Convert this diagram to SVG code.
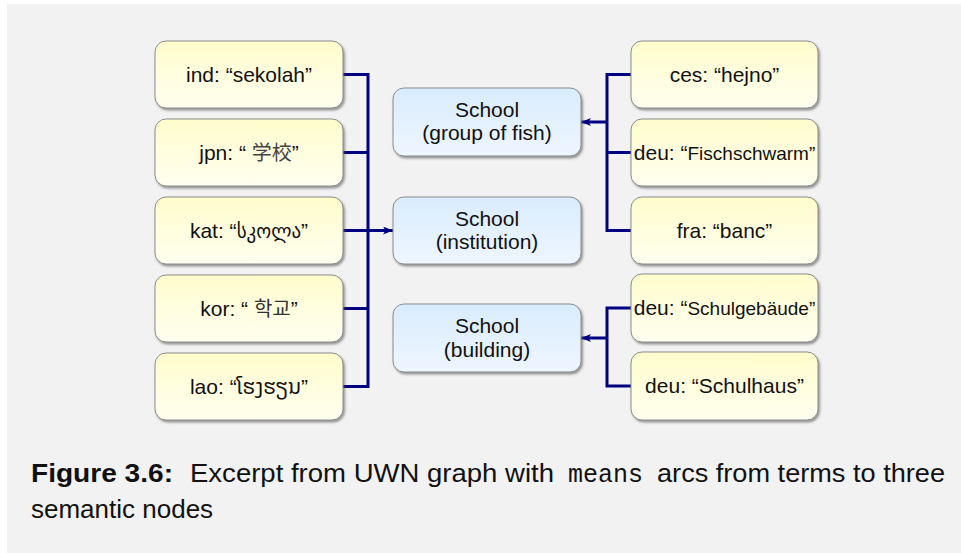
<svg xmlns="http://www.w3.org/2000/svg" width="961" height="553" viewBox="0 0 961 553">
<style>
.term{fill:url(#gy);stroke:#8c8c8c;stroke-width:1;filter:url(#sh)}
.sem{fill:url(#gb);stroke:#8c8c8c;stroke-width:1;filter:url(#sh)}
.t{font-family:"Liberation Sans",Arial,"DejaVu Sans","Noto Sans CJK JP","Noto Sans CJK KR",sans-serif;font-size:21px;fill:#111;text-anchor:middle}
.c{stroke:#000080;stroke-width:3;fill:none}
.a{stroke:#000080;stroke-width:3;fill:none;marker-end:url(#ah)}
.cap{font-family:"Liberation Sans",Arial,sans-serif;font-size:26px;fill:#111}
.mono{font-family:"Liberation Mono","Courier New",monospace;font-size:25px}
</style>
<defs>
<linearGradient id="gy" x1="0" y1="0" x2="0" y2="1">
<stop offset="0" stop-color="#fffccc"/>
<stop offset="1" stop-color="#fffff0"/>
</linearGradient>
<linearGradient id="gb" x1="0" y1="0" x2="0" y2="1">
<stop offset="0" stop-color="#d9ecfd"/>
<stop offset="1" stop-color="#eef6ff"/>
</linearGradient>
<filter id="sh" x="-10%" y="-10%" width="120%" height="130%">
<feDropShadow dx="1.5" dy="2" stdDeviation="0.8" flood-color="#555" flood-opacity="0.6"/>
</filter>
<marker id="ah" viewBox="0 0 10 8" refX="10" refY="4" markerWidth="10" markerHeight="8" markerUnits="userSpaceOnUse" orient="auto">
<path d="M0,0 L10,4 L0,8 L2.5,4 Z" fill="#000080"/>
</marker>
</defs>
<rect x="0" y="0" width="961" height="553" fill="#ffffff"/>
<rect x="7" y="4" width="954" height="549" fill="#f2f2f2"/>

<g id="connectors">
<path class="c" d="M343,74.5 H368 M343,152.5 H368 M343,308.5 H368 M343,386.5 H368 M368,73 V388 M343,230.5 H368"/>
<path class="a" d="M368,230.5 H393"/>
<path class="c" d="M631,74.5 H607 M631,152.5 H607 M631,230.5 H607 M607,73 V232"/>
<path class="a" d="M607,122 H581"/>
<path class="c" d="M631,308 H607 M631,386 H607 M607,306.5 V387.5"/>
<path class="a" d="M607,338 H581"/>
</g>

<g id="ind"><rect class="term" x="155" y="41" width="188" height="67" rx="11"/><text class="t" x="249" y="82">ind: “sekolah”</text></g>
<g id="jpn"><rect class="term" x="155" y="119" width="188" height="67" rx="11"/><text class="t" x="249" y="160">jpn: “ <tspan fill="#444" font-family="'Noto Sans CJK JP',sans-serif" font-size="20">学校</tspan>”</text></g>
<g id="kat"><rect class="term" x="155" y="197" width="188" height="67" rx="11"/><text class="t" x="249" y="238">kat: “<tspan font-family="'DejaVu Sans','Noto Sans',sans-serif" font-size="19">სკოლა</tspan>”</text></g>
<g id="kor"><rect class="term" x="155" y="275" width="188" height="67" rx="11"/><text class="t" x="249" y="316">kor: “ <tspan fill="#333" font-family="'Noto Sans CJK KR',sans-serif" font-size="20">학교</tspan>”</text></g>
<g id="lao"><rect class="term" x="155" y="353" width="188" height="67" rx="11"/><text class="t" x="249" y="394">lao: “<tspan font-family="'Noto Sans Lao','DejaVu Sans','Noto Sans',sans-serif">ໂຮງຮຽນ</tspan>”</text></g>

<g id="fish"><rect class="sem" x="393" y="88" width="188" height="68" rx="11"/><text class="t" x="487" y="117">School</text><text class="t" x="487" y="140">(group of fish)</text></g>
<g id="institution"><rect class="sem" x="393" y="197" width="188" height="67" rx="11"/><text class="t" x="487" y="225.5">School</text><text class="t" x="487" y="248.5">(institution)</text></g>
<g id="building"><rect class="sem" x="393" y="304" width="188" height="68" rx="11"/><text class="t" x="487" y="333">School</text><text class="t" x="487" y="356.5">(building)</text></g>

<g id="ces"><rect class="term" x="631" y="41" width="187" height="67" rx="11"/><text class="t" x="724.5" y="82">ces: “hejno”</text></g>
<g id="deu1"><rect class="term" x="631" y="119" width="187" height="67" rx="11"/><text class="t" x="724.5" y="160">deu: “<tspan font-size="19">Fischschwarm”</tspan></text></g>
<g id="fra"><rect class="term" x="631" y="197" width="187" height="67" rx="11"/><text class="t" x="724.5" y="238">fra: “banc”</text></g>
<g id="deu2"><rect class="term" x="631" y="274" width="187" height="68" rx="11"/><text class="t" x="724.5" y="315">deu: “<tspan font-size="19">Schulgebäude”</tspan></text></g>
<g id="deu3"><rect class="term" x="631" y="352" width="187" height="68" rx="11"/><text class="t" x="724.5" y="393">deu: “Schulhaus”</text></g>

<g id="caption">
<text class="cap" y="482"><tspan x="31" font-weight="bold" textLength="142" lengthAdjust="spacingAndGlyphs">Figure 3.6:</tspan><tspan x="190" textLength="364" lengthAdjust="spacingAndGlyphs">Excerpt from UWN graph with</tspan><tspan x="568" class="mono" textLength="75" lengthAdjust="spacingAndGlyphs">means</tspan><tspan x="657" textLength="288" lengthAdjust="spacingAndGlyphs">arcs from terms to three</tspan></text>
<text class="cap" x="31" y="518">semantic nodes</text>
</g>
</svg>
